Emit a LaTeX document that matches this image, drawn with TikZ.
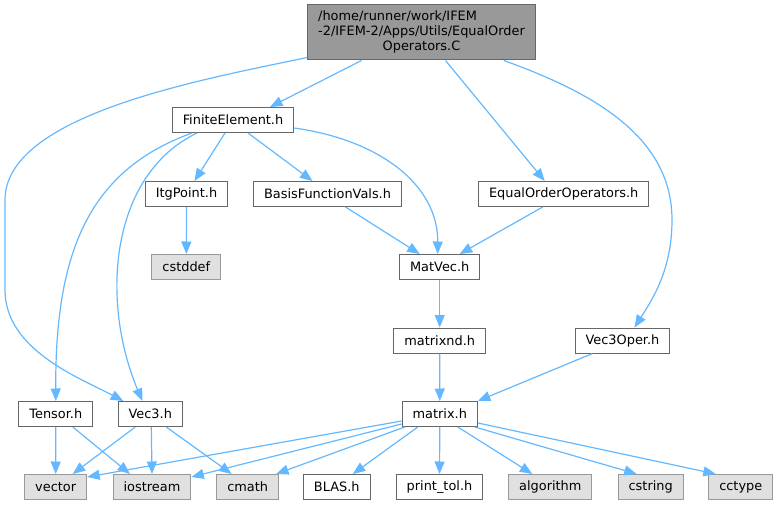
\documentclass[tikz,border=0pt]{standalone}
\usepackage{fontspec}
\setmainfont{DejaVu Sans}
\usetikzlibrary{arrows.meta}
\definecolor{edgec}{HTML}{63B8FF}
\definecolor{bordc}{HTML}{666666}
\definecolor{sysbord}{HTML}{999999}
\definecolor{sysfill}{HTML}{E0E0E0}
\definecolor{topfill}{HTML}{999999}
\begin{document}
\begin{tikzpicture}[x=1pt,y=-1pt,
  box/.style={draw=bordc, fill=white, line width=1pt, inner xsep=10.5pt, inner ysep=0pt,
    minimum height=25pt, font=\fontsize{12.9}{15}\selectfont},
  sysbox/.style={box, draw=sysbord, fill=sysfill},
  topbox/.style={box, fill=topfill, minimum height=55pt},
  conn/.style={draw=edgec, line width=1.2pt, -{Triangle[length=12.5pt,width=10pt]}}
]
\useasboundingbox (0,0) rectangle (779,505);
\node[topbox] (top) at (421.5,32.5) {\begin{tabular}{@{}l@{}}/home/runner/work/IFEM\\-2/IFEM-2/Apps/Utils/EqualOrder\\\multicolumn{1}{@{}c@{}}{Operators.C}\end{tabular}};
\node[box] (fe) at (233,120) {FiniteElement.h};
\node[box] (itg) at (186.5,194) {ItgPoint.h};
\node[box] (bfv) at (327.5,194) {BasisFunctionVals.h};
\node[sysbox] (cstddef) at (186.3,267) {cstddef};
\node[box] (eq) at (563.7,194) {EqualOrderOperators.h};
\node[box] (mv) at (439.7,267) {MatVec.h};
\node[box] (mxnd) at (439.7,340.5) {matrixnd.h};
\node[box] (v3o) at (622.5,340.5) {Vec3Oper.h};
\node[box] (tensor) at (55.8,414) {Tensor.h};
\node[box] (v3) at (150.3,414) {Vec3.h};
\node[box] (matrix) at (439.8,414) {matrix.h};
\node[sysbox] (vector) at (55.7,487) {vector};
\node[sysbox] (ios) at (152,487) {iostream};
\node[sysbox] (cmath) at (247.7,487) {cmath};
\node[box] (blas) at (336.8,487) {BLAS.h};
\node[box] (ptol) at (439.5,487) {print\_tol.h};
\node[sysbox] (alg) at (550.3,487) {algorithm};
\node[sysbox] (cstr) at (650.7,487) {cstring};
\node[sysbox] (cct) at (740.8,487) {cctype};

\draw[conn] ([xshift=-60pt]top.south) -- ([xshift=37pt]fe.north);
\draw[conn] ([yshift=3pt]top.south west) .. controls (200,80) and (5,115) .. (5,200) -- (5,290) .. controls (5,350) and (80,378) .. ([xshift=-27pt]v3.north);
\draw[conn] ([xshift=24pt]top.south) -- ([xshift=-19pt]eq.north);
\draw[conn] ([xshift=-32pt]top.south east) .. controls (600,95) and (672,140) .. (672,220) .. controls (672,270) and (652,300) .. ([xshift=12pt]v3o.north);

\draw[conn] ([xshift=-8pt]fe.south) -- ([xshift=8pt]itg.north);
\draw[conn] ([xshift=15pt]fe.south) -- ([xshift=-15pt]bfv.north);
\draw[conn] ([yshift=-8pt]fe.east) .. controls (380,140) and (438,185) .. ([xshift=-2pt]mv.north);
\draw[conn] ([xshift=-41pt]fe.south) .. controls (90,170) and (55,250) .. (tensor.north);
\draw[conn] ([xshift=-36pt]fe.south) .. controls (110,175) and (100,300) .. ([xshift=-8pt]v3.north);

\draw[conn] (itg) -- (cstddef);
\draw[conn] ([xshift=18pt]bfv.south) -- ([xshift=-20pt]mv.north);
\draw[conn] ([xshift=-21pt]eq.south) -- ([xshift=20pt]mv.north);
\draw[conn] (mv) -- (mxnd);
\draw[conn] (mxnd) -- (matrix);
\draw[conn] ([xshift=-30pt]v3o.south) -- ([xshift=38pt]matrix.north);

\draw[conn] (tensor) -- (vector);
\draw[conn] ([xshift=17pt]tensor.south) -- ([xshift=-22pt]ios.north);
\draw[conn] ([xshift=-15pt]v3.south) -- ([xshift=17pt]vector.north);
\draw[conn] ([xshift=1pt]v3.south) -- (ios.north);
\draw[conn] ([xshift=16pt]v3.south) -- ([xshift=-16pt]cmath.north);

\draw[conn] ([yshift=-7pt]matrix.west) -- ([yshift=10pt]vector.east);
\draw[conn] ([yshift=-10pt]matrix.west) -- ([yshift=10pt]ios.east);
\draw[conn] ([xshift=-35pt]matrix.south) -- ([xshift=-3pt]cmath.north east);
\draw[conn] ([xshift=-22pt]matrix.south) -- ([xshift=16pt]blas.north);
\draw[conn] (matrix) -- (ptol);
\draw[conn] ([xshift=18pt]matrix.south) -- ([xshift=-18pt]alg.north);
\draw[conn] ([xshift=35pt]matrix.south) -- ([xshift=-14pt]cstr.north);
\draw[conn] ([yshift=-9pt]matrix.east) -- ([xshift=-25pt]cct.north);
\end{tikzpicture}
\end{document}
